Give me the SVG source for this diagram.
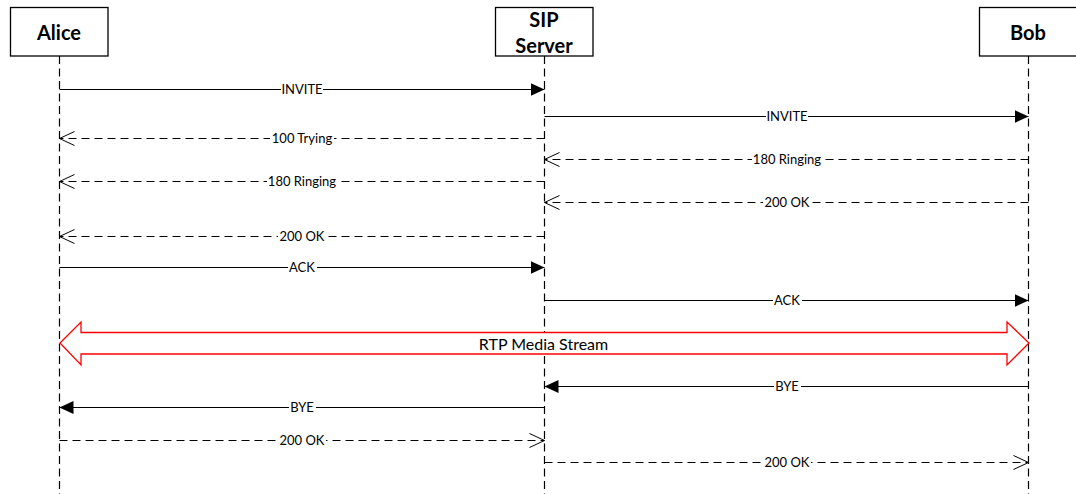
<svg xmlns="http://www.w3.org/2000/svg" width="1076" height="494" viewBox="0 0 1076 494">
<style>
.box{fill:#fff;stroke:#000;stroke-width:1.3}
.nt{font-family:Lato,"Liberation Sans",sans-serif;font-weight:bold;font-size:20px;fill:#000;text-anchor:middle}
.life{stroke:#000;stroke-width:1.2;stroke-dasharray:8,4.5;fill:none}
.msg{stroke:#000;stroke-width:1;fill:none}
.dash{stroke-dasharray:8,5}
.solid{marker-end:url(#hs)}
.open{marker-end:url(#ho)}
.lb{fill:#fff}
.lt{font-family:Lato,"Liberation Sans",sans-serif;font-size:13px;fill:#000;text-anchor:middle}
</style>
<defs>
<marker id="hs" viewBox="0 0 14 13" refX="14" refY="6.5" markerWidth="14" markerHeight="13" markerUnits="userSpaceOnUse" orient="auto">
<path d="M0,0 L14,6.5 L0,13 Z" fill="#000"/>
</marker>
<marker id="ho" viewBox="-1 -1 17 16" refX="15" refY="7" markerWidth="17" markerHeight="16" markerUnits="userSpaceOnUse" orient="auto">
<path d="M0,0 L15,7 L0,14" fill="none" stroke="#000" stroke-width="1"/>
</marker>
</defs>
<rect width="1076" height="494" fill="#fff"/>
<g id="lifelines">
<line class="life" x1="59.5" y1="56" x2="59.5" y2="494"/>
<line class="life" x1="544.5" y1="56" x2="544.5" y2="494"/>
<line class="life" x1="1028.5" y1="56" x2="1028.5" y2="494"/>
</g>
<g id="alice">
<rect class="box" x="10.5" y="7.5" width="97.5" height="48.5"/>
<text class="nt" x="59" y="39.5">Alice</text>
</g>
<g id="sipserver">
<rect class="box" x="495.5" y="7.5" width="97.5" height="48.5"/>
<text class="nt" x="544" y="27">SIP</text>
<text class="nt" x="544" y="53">Server</text>
</g>
<g id="bob">
<rect class="box" x="979.5" y="7.5" width="97.5" height="48.5"/>
<text class="nt" x="1028" y="40">Bob</text>
</g>
<g id="connectors">
<g><line class="msg solid" x1="59.5" y1="89.5" x2="544.5" y2="89.5"/><rect class="lb" x="281" y="83" width="42" height="13"/><text class="lt" x="302" y="94">INVITE</text></g>
<g><line class="msg solid" x1="544.5" y1="116.5" x2="1028.5" y2="116.5"/><rect class="lb" x="766" y="110" width="42" height="13"/><text class="lt" x="787" y="121">INVITE</text></g>
<g><line class="msg dash open" x1="544.5" y1="138.5" x2="59.5" y2="138.5"/><rect class="lb" x="270" y="132" width="64" height="13"/><text class="lt" x="302" y="143">100 Trying</text></g>
<g><line class="msg dash open" x1="1028.5" y1="159.5" x2="544.5" y2="159.5"/><rect class="lb" x="752" y="153" width="71" height="13"/><text class="lt" x="787" y="164">180 Ringing</text></g>
<g><line class="msg dash open" x1="544.5" y1="181.5" x2="59.5" y2="181.5"/><rect class="lb" x="267" y="175" width="71" height="13"/><text class="lt" x="302" y="186">180 Ringing</text></g>
<g><line class="msg dash open" x1="1028.5" y1="202.5" x2="544.5" y2="202.5"/><rect class="lb" x="763" y="196" width="48" height="13"/><text class="lt" x="787" y="207">200 OK</text></g>
<g><line class="msg dash open" x1="544.5" y1="236.5" x2="59.5" y2="236.5"/><rect class="lb" x="278" y="230" width="48" height="13"/><text class="lt" x="302" y="241">200 OK</text></g>
<g><line class="msg solid" x1="59.5" y1="267.5" x2="544.5" y2="267.5"/><rect class="lb" x="288" y="261" width="29" height="13"/><text class="lt" x="302" y="272">ACK</text></g>
<g><line class="msg solid" x1="544.5" y1="300.5" x2="1028.5" y2="300.5"/><rect class="lb" x="773" y="294" width="29" height="13"/><text class="lt" x="787" y="305">ACK</text></g>
<g id="rtp"><polygon points="60,343 81,322 81,332.5 1007,332.5 1007,322 1029,343 1007,365 1007,354 81,354 81,365" fill="#fff" stroke="#ff0000" stroke-width="1.3"/><text x="543.5" y="350" font-family="Lato,'Liberation Sans',sans-serif" font-size="16" text-anchor="middle" fill="#000">RTP Media Stream</text></g>
<g><line class="msg solid" x1="1028.5" y1="386.5" x2="544.5" y2="386.5"/><rect class="lb" x="774" y="380" width="27" height="13"/><text class="lt" x="787" y="391">BYE</text></g>
<g><line class="msg solid" x1="544.5" y1="407.5" x2="59.5" y2="407.5"/><rect class="lb" x="289" y="401" width="27" height="13"/><text class="lt" x="302" y="412">BYE</text></g>
<g><line class="msg dash open" x1="59.5" y1="440.5" x2="544.5" y2="440.5"/><rect class="lb" x="278" y="434" width="48" height="13"/><text class="lt" x="302" y="445">200 OK</text></g>
<g><line class="msg dash open" x1="544.5" y1="462.5" x2="1028.5" y2="462.5"/><rect class="lb" x="763" y="456" width="48" height="13"/><text class="lt" x="787" y="467">200 OK</text></g>
</g>
</svg>
